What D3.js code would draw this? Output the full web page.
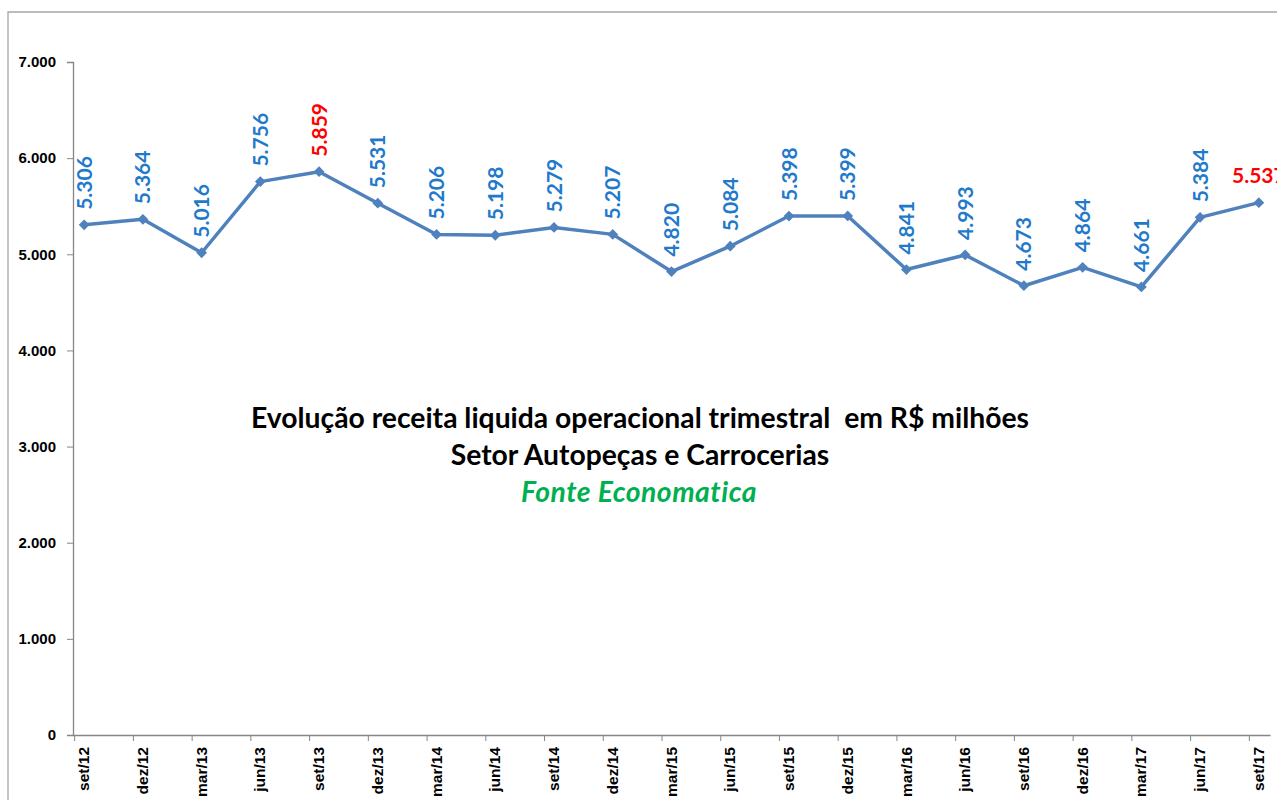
<!DOCTYPE html>
<html>
<head>
<meta charset="utf-8">
<script src="https://cdn.jsdelivr.net/npm/d3@7"></script>
<style>
  body { margin: 0; background: #fff; }
  svg { display: block; font-family: Lato, "Open Sans", sans-serif; }
</style>
</head>
<body>
<div id="chart"></div>
<script>
// quarters (set = setembro)
const quarters = ["set/12", "dez/12", "mar/13", "jun/13", "set/13", "dez/13", "mar/14", "jun/14",
  "set/14", "dez/14", "mar/15", "jun/15", "set/15", "dez/15", "mar/16", "jun/16",
  "set/16", "dez/16", "mar/17", "jun/17", "set/17"];
// receita liquida, R$ milhões
const receita = [5306, 5364, 5016, 5756, 5859, 5531, 5206, 5198, 5279, 5207, 4820, 5084,
  5398, 5399, 4841, 4993, 4673, 4864, 4661, 5384, 5537];
const highlighted = ["set/13", "set/17"];
const yTicks = [0, 1000, 2000, 3000, 4000, 5000, 6000, 7000];
const titleLines = ["Evolução receita liquida operacional trimestral \u00a0em R$ milhões", "Setor Autopeças e Carrocerias"];
const sourceLine = "Fonte Economatica";

const width = 1277;
const height = 800;
const plotLeft = 73, plotRight = 1270, plotTop = 62, plotBottom = 735;

const br = d3.formatLocale({ decimal: ",", thousands: ".", grouping: [3], currency: ["R$", ""] });
const fmt = br.format(",d");

const data = quarters.map((q, i) => ({ q: q, v: receita[i] }));

const svg = d3.select("#chart").append("svg")
  .attr("width", width)
  .attr("height", height);

// chart area border
svg.append("path")
  .attr("d", "M8," + height + "V12H" + width)
  .attr("fill", "none")
  .attr("stroke", "#a6a6a6")
  .attr("stroke-width", 1.3);

const x = d3.scalePoint()
  .domain(quarters)
  .range([plotLeft, plotRight])
  .padding(0.19);

const y = d3.scaleLinear()
  .domain([0, 7000])
  .range([plotBottom, plotTop]);

// y axis
const yAxis = svg.append("g")
  .attr("transform", "translate(" + plotLeft + ",0)")
  .call(d3.axisLeft(y).tickValues(yTicks).tickSize(6).tickPadding(11).tickFormat(fmt));
yAxis.select(".domain").attr("stroke", "#868686").attr("stroke-width", 1.3);
yAxis.selectAll(".tick line").attr("stroke", "#868686");
yAxis.selectAll(".tick text")
  .attr("fill", "#000")
  .style("font-size", "15px")
  .style("font-weight", "bold");

// x axis
const xAxis = svg.append("g")
  .attr("transform", "translate(0," + plotBottom + ")")
  .call(d3.axisBottom(x).tickSize(6).tickSizeOuter(0));
xAxis.select(".domain").attr("stroke", "#868686").attr("stroke-width", 1.3);
xAxis.selectAll(".tick line")
  .attr("stroke", "#868686")
  .attr("x1", -10).attr("x2", -10);
xAxis.selectAll(".tick text")
  .attr("fill", "#000")
  .attr("text-anchor", "end")
  .attr("transform", "rotate(-90)")
  .attr("x", -12)
  .attr("y", -1)
  .attr("dy", "0.36em")
  .style("font-size", "15.5px")
  .style("font-weight", "bold");

// line
const line = d3.line()
  .x(d => x(d.q))
  .y(d => y(d.v));

svg.append("path")
  .datum(data)
  .attr("d", line)
  .attr("fill", "none")
  .attr("stroke", "#4f81bd")
  .attr("stroke-width", 3.5)
  .attr("stroke-linejoin", "round");

svg.append("g")
  .selectAll("path")
  .data(data)
  .enter().append("path")
    .attr("d", d3.symbol(d3.symbolSquare, 58))
    .attr("transform", d => "translate(" + x(d.q) + "," + y(d.v) + ") rotate(45)")
    .attr("fill", "#4f81bd");

// value labels
const labels = svg.append("g")
  .style("font-size", "21px")
  .style("font-weight", "bold");

labels.selectAll("text.rot")
  .data(data.filter(d => d.q !== quarters[quarters.length - 1]))
  .enter().append("text")
    .attr("class", "rot")
    .attr("transform", d => "translate(" + x(d.q) + "," + (y(d.v) - 15) + ") rotate(-90)")
    .attr("dy", "0.36em")
    .attr("fill", d => highlighted.includes(d.q) ? "#ff0000" : "#1f7acb")
    .text(d => fmt(d.v));

labels.selectAll("text.flat")
  .data(data.filter(d => d.q === quarters[quarters.length - 1]))
  .enter().append("text")
    .attr("class", "flat")
    .attr("x", d => x(d.q))
    .attr("y", d => y(d.v) - 20)
    .attr("text-anchor", "middle")
    .attr("fill", "#ff0000")
    .text(d => fmt(d.v));

// title
const title = svg.append("g")
  .attr("text-anchor", "middle")
  .style("font-weight", "bold")
  .style("font-size", "28.3px");

title.selectAll("text.t")
  .data(titleLines)
  .enter().append("text")
    .attr("class", "t")
    .attr("x", 640)
    .attr("y", (d, i) => 428 + i * 37)
    .attr("fill", "#000")
    .text(d => d);

title.append("text")
  .attr("x", 639)
  .attr("y", 502)
  .attr("fill", "#00b050")
  .style("font-style", "italic")
  .style("letter-spacing", "0.5px")
  .text(sourceLine);
</script>
</body>
</html>
